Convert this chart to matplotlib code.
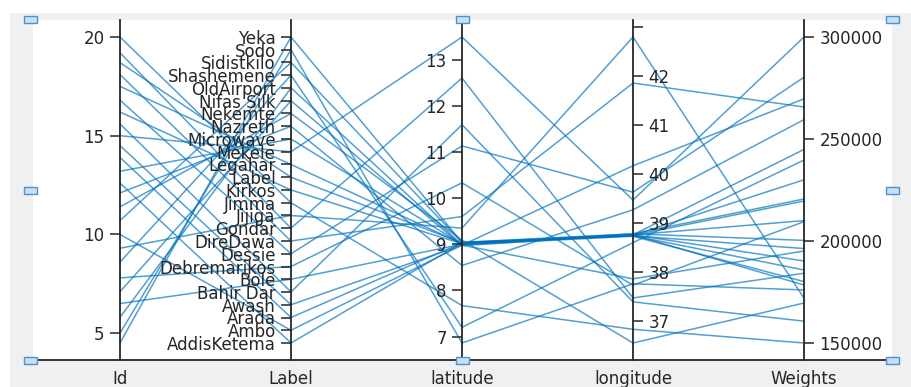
import numpy as np
import matplotlib.pyplot as plt
from matplotlib.patches import Rectangle

# data (one row per site)
labels = ['AddisKetema', 'Ambo', 'Arada', 'Awash', 'Bahir Dar', 'Bole', 'Debremarikos',
          'Dessie', 'DireDawa', 'Gondar', 'Jijiga', 'Jimma', 'Kirkos', 'Label', 'Legahar',
          'Mekele', 'Microwave', 'Nazreth', 'Nekemte', 'Nifas Silk', 'OldAirport',
          'Shashemene', 'Sidistkilo', 'Sodo', 'Yeka']
ids = [12.6, 10.0, 13.9, 14.5, 15.6, 6.5, 7.8, 16.8, 18.1, 19.2, 9.3, 20.0, 16.2, 18.7, 17.5,
       15.0, 13.2, 12.1, 11.4, 7.1, 5.8, 8.6, 10.7, 5.0, 4.5]
latitude = [9.03, 8.98, 9.03, 8.98, 11.59, 9.00, 10.33, 11.13, 9.60, 12.60, 9.35, 7.67, 9.01,
            9.03, 9.01, 13.49, 9.00, 8.54, 9.09, 8.97, 8.99, 7.20, 9.04, 6.86, 9.04]
longitude = [38.74, 37.86, 38.75, 40.17, 37.39, 38.78, 37.73, 39.63, 41.86, 37.47, 42.80, 36.83,
             38.75, 38.74, 38.76, 39.47, 38.76, 39.27, 36.55, 38.76, 38.73, 38.60, 38.76, 37.76, 38.78]
weights = [185800, 195100, 230000, 269700, 160700, 200300, 209500, 280300, 265700, 184200,
           172000, 150000, 219600, 196300, 190200, 300000, 244900, 259500, 169600, 178400,
           180100, 239700, 210000, 176000, 220600]

columns = ['Id', 'Label', 'latitude', 'longitude', 'Weights']

cats = sorted(set(labels))
codes = [cats.index(l) for l in labels]
table = [ids, codes, latitude, longitude, weights]

W, H = 911, 387
fig = plt.figure(figsize=(W / 100, H / 100), dpi=100)
fig.add_artist(Rectangle((10 / W, 0), 901 / W, 374 / H, transform=fig.transFigure,
                         facecolor='#f0f0f0', edgecolor='none', zorder=-10))

ax = fig.add_axes([33 / W, 27 / H, 859 / W, 340 / H])
ax.set_facecolor('white')

pad = 17 / 306
dark = '#262626'

norm = np.zeros((len(labels), len(columns)))
for i, vals in enumerate(table):
    v = np.asarray(vals, float)
    norm[:, i] = (v - v.min()) / (v.max() - v.min())

for row in norm:
    ax.plot(range(len(columns)), row, color='#0072BD', alpha=0.68, lw=1.1)

ax.set_xlim(-87 / 171, 4 + 88 / 171)
ax.set_ylim(-pad, 1 + pad)
ax.set_yticks([])
for s in ['left', 'right', 'top']:
    ax.spines[s].set_visible(False)
ax.spines['bottom'].set_color(dark)
ax.spines['bottom'].set_linewidth(1.3)
ax.set_xticks(range(len(columns)))
ax.set_xticklabels(columns)
ax.tick_params(axis='x', length=0, pad=7, labelsize=12, labelcolor=dark)

sides = ['left', 'left', 'left', 'right', 'right']
ticks = [[5, 10, 15, 20],
         list(range(len(cats))),
         [7, 8, 9, 10, 11, 12, 13],
         [37, 38, 39, 40, 41, 42, 43],
         [150000, 200000, 250000, 300000]]
ticklabels = [[str(t) for t in ticks[0]],
              cats,
              [str(t) for t in ticks[2]],
              ['37', '38', '39', '40', '41', '42', ''],
              [str(t) for t in ticks[4]]]

for i, vals in enumerate(table):
    v = np.asarray(vals, float)
    mn, mx = v.min(), v.max()
    t = ax.twinx()
    t.set_ylim(mn - pad * (mx - mn), mx + pad * (mx - mn))
    for s in t.spines.values():
        s.set_visible(False)
    sp = t.spines[sides[i]]
    sp.set_visible(True)
    sp.set_position(('data', i))
    sp.set_color(dark)
    sp.set_linewidth(1.3)
    if sides[i] == 'left':
        t.yaxis.tick_left()
    else:
        t.yaxis.tick_right()
    t.set_yticks(ticks[i])
    t.set_yticklabels(ticklabels[i])
    t.tick_params(axis='y', length=7, width=1.1, color=dark, labelcolor=dark,
                  labelsize=12, pad=4)

# selection handles
for hx, hy in [(30, 19), (30, 190), (30, 360), (462, 19), (462, 360),
               (892, 19), (892, 190), (892, 360)]:
    fig.add_artist(Rectangle(((hx - 6.5) / W, (H - hy - 3.5) / H), 13 / W, 7 / H,
                             transform=fig.transFigure, facecolor='#c5e0f7',
                             edgecolor='#4f92cf', lw=1, zorder=10))

fig.savefig('out.png', dpi=100)
